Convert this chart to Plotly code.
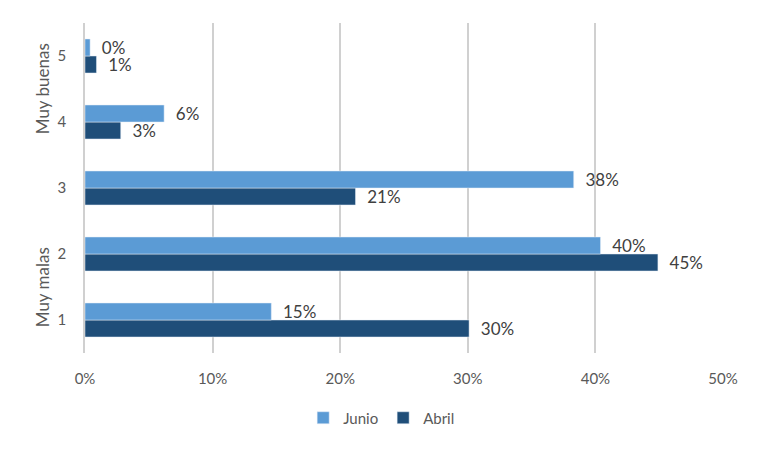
import plotly.graph_objects as go

categories = [1, 2, 3, 4, 5]
tick_labels = ["1", "2", "3", "4", "5"]
junio = [0.146, 0.404, 0.383, 0.062, 0.004]
abril = [0.301, 0.449, 0.212, 0.028, 0.009]
x_ticks = [0, 0.1, 0.2, 0.3, 0.4, 0.5]
x_tick_labels = ["0%", "10%", "20%", "30%", "40%", "50%"]
group_labels = [("Muy buenas", 4.5), ("Muy malas", 1.5)]

FONT = "Lato, 'Open Sans', sans-serif"
label_font = dict(family=FONT, size=17, color="#404040")
PAD = "\u00a0\u00a0"

fig = go.Figure()
fig.add_trace(go.Bar(
    y=categories, x=abril, name="Abril", orientation="h",
    marker=dict(color="#1F4E79"),
    text=[f"{PAD}{round(v*100):.0f}%" for v in abril], textposition="outside",
    textfont=label_font, cliponaxis=False, legendrank=2, constraintext="none",
))
fig.add_trace(go.Bar(
    y=categories, x=junio, name="Junio", orientation="h",
    marker=dict(color="#5B9BD5"),
    text=[f"{PAD}{round(v*100):.0f}%" for v in junio], textposition="outside",
    textfont=label_font, cliponaxis=False, legendrank=1, constraintext="none",
))

annotations = []
for txt, yv in group_labels:
    annotations.append(dict(
        text=txt, x=-0.067, xref="paper", y=yv, yref="y",
        textangle=-90, showarrow=False, xanchor="center", yanchor="middle",
        font=dict(family=FONT, size=17, color="#595959"),
    ))

fig.update_layout(
    width=762, height=449,
    margin=dict(l=85, r=39, t=23, b=96),
    paper_bgcolor="white", plot_bgcolor="white",
    barmode="group", bargap=0.485, bargroupgap=0,
    font=dict(family=FONT, size=15, color="#595959"),
    showlegend=True,
    legend=dict(orientation="h", x=0.465, xanchor="center", y=-0.197, yanchor="middle",
                font=dict(family=FONT, size=15, color="#595959"),
                itemwidth=30, traceorder="normal"),
    annotations=annotations,
)
fig.update_xaxes(
    range=[0, 0.5], tickvals=x_ticks, ticktext=x_tick_labels,
    showgrid=True, gridcolor="#D0D0D0", gridwidth=1.5,
    zeroline=False, showline=False,
    ticks="outside", ticklen=12, tickcolor="rgba(0,0,0,0)",
    tickfont=dict(family=FONT, size=15, color="#595959"),
)
fig.update_yaxes(
    range=[0.5, 5.5], tickvals=categories, ticktext=tick_labels,
    showgrid=False, zeroline=False,
    showline=True, linecolor="#D0D0D0", linewidth=1.5,
    ticks="outside", ticklen=14, tickcolor="rgba(0,0,0,0)",
    tickfont=dict(family=FONT, size=15, color="#595959"),
)

fig.write_html("out.html")
